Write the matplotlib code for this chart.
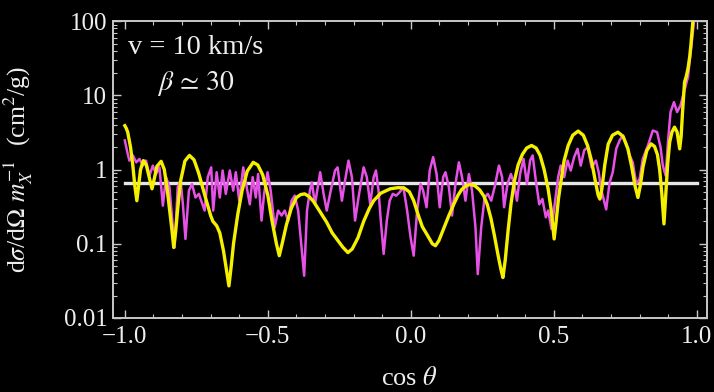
import matplotlib
matplotlib.use("Agg")
import matplotlib.pyplot as plt
from matplotlib.ticker import FixedLocator, LogLocator, NullFormatter, MultipleLocator

# yellow curve (cos theta, cross section)
yellow_x = [-1.0, -0.995, -0.990, -0.980, -0.972, -0.965, -0.958, -0.952, -0.945, -0.935,
            -0.925, -0.915, -0.905, -0.897, -0.888, -0.873, -0.862, -0.852, -0.843, -0.835,
            -0.829, -0.822, -0.815, -0.805, -0.790, -0.774, -0.758, -0.742, -0.720, -0.700,
            -0.692, -0.679, -0.668, -0.655, -0.645, -0.636, -0.628, -0.620, -0.605, -0.590,
            -0.572, -0.551, -0.535, -0.518, -0.500, -0.485, -0.470, -0.460, -0.450, -0.435,
            -0.418, -0.400, -0.385, -0.371, -0.355, -0.340, -0.320, -0.294, -0.275, -0.255,
            -0.238, -0.220, -0.205, -0.185, -0.165, -0.145, -0.130, -0.105, -0.072, -0.045,
            -0.024, -0.005, 0.010, 0.025, 0.040, 0.059, 0.075, 0.086, 0.098, 0.115,
            0.133, 0.150, 0.165, 0.178, 0.195, 0.209, 0.225, 0.241, 0.255, 0.267,
            0.280, 0.292, 0.305, 0.315, 0.322, 0.330, 0.340, 0.350, 0.362, 0.375,
            0.390, 0.405, 0.422, 0.438, 0.452, 0.466, 0.480, 0.490, 0.501, 0.508,
            0.516, 0.525, 0.536, 0.550, 0.566, 0.585, 0.603, 0.618, 0.632, 0.645,
            0.655, 0.661, 0.668, 0.678, 0.690, 0.705, 0.724, 0.742, 0.759, 0.772,
            0.784, 0.794, 0.802, 0.812, 0.825, 0.840, 0.852, 0.862, 0.870, 0.878,
            0.885, 0.891, 0.898, 0.905, 0.913, 0.922, 0.931, 0.940, 0.945, 0.950,
            0.957, 0.963, 0.969, 0.975, 0.979, 0.986, 0.990]
yellow_y = [3.9, 3.6, 3.2, 2.0, 1.13, 0.6, 0.38, 0.6, 1.0, 1.32,
            1.15, 0.8, 0.55, 0.75, 1.1, 1.29, 1.0, 0.55, 0.28, 0.15,
            0.089, 0.15, 0.3, 0.7, 1.3, 1.55, 1.35, 0.9, 0.445, 0.24,
            0.2, 0.175, 0.14, 0.08, 0.045, 0.027, 0.05, 0.1, 0.25, 0.52,
            0.95, 1.25, 1.15, 0.85, 0.45, 0.2, 0.1, 0.069, 0.1, 0.18,
            0.3, 0.42, 0.46, 0.47, 0.43, 0.37, 0.28, 0.194, 0.14, 0.11,
            0.09, 0.076, 0.085, 0.12, 0.2, 0.3, 0.38, 0.48, 0.55, 0.57,
            0.565, 0.5, 0.38, 0.25, 0.17, 0.128, 0.1, 0.094, 0.11, 0.16,
            0.24, 0.34, 0.45, 0.54, 0.61, 0.63, 0.6, 0.53, 0.44, 0.34,
            0.22, 0.13, 0.07, 0.045, 0.035, 0.06, 0.15, 0.34, 0.7, 1.15,
            1.6, 1.95, 2.11, 1.95, 1.55, 1.0, 0.55, 0.3, 0.116, 0.2,
            0.4, 0.7, 1.32, 2.1, 2.9, 3.30, 2.9, 2.1, 1.3, 0.7,
            0.45, 0.40, 0.55, 1.15, 2.2, 2.9, 3.19, 2.8, 1.90, 1.1,
            0.6, 0.42, 0.6, 1.1, 1.8, 2.22, 2.05, 1.6, 1.0, 0.45,
            0.185, 0.45, 1.2, 2.34, 3.2, 3.73, 3.2, 1.90, 2.8, 6.0,
            15.1, 18.0, 23.0, 33.0, 47.0, 98.0, 120.0]

# magenta curve
magenta_x = [-1.0, -0.990, -0.984, -0.972, -0.960, -0.949, -0.937, -0.926, -0.914, -0.902,
             -0.891, -0.879, -0.867, -0.856, -0.844, -0.832, -0.826, -0.815, -0.805, -0.797,
             -0.788, -0.776, -0.765, -0.753, -0.741, -0.733, -0.721, -0.710, -0.698, -0.691,
             -0.679, -0.668, -0.658, -0.647, -0.633, -0.621, -0.612, -0.600, -0.586, -0.574,
             -0.563, -0.553, -0.542, -0.534, -0.522, -0.513, -0.501, -0.490, -0.476, -0.464,
             -0.452, -0.441, -0.429, -0.417, -0.406, -0.394, -0.379, -0.373, -0.363, -0.353,
             -0.346, -0.335, -0.317, -0.305, -0.294, -0.280, -0.265, -0.256, -0.241, -0.230,
             -0.218, -0.206, -0.195, -0.183, -0.165, -0.154, -0.142, -0.130, -0.122, -0.113,
             -0.105, -0.095, -0.084, -0.074, -0.063, -0.051, -0.040, -0.026, -0.013, -0.001,
             0.010, 0.022, 0.034, 0.043, 0.055, 0.066, 0.078, 0.090, 0.101, 0.113,
             0.121, 0.133, 0.144, 0.156, 0.168, 0.179, 0.191, 0.203, 0.214, 0.226,
             0.234, 0.246, 0.258, 0.269, 0.281, 0.293, 0.308, 0.319, 0.326, 0.338,
             0.350, 0.361, 0.371, 0.382, 0.394, 0.406, 0.417, 0.426, 0.437, 0.449,
             0.460, 0.472, 0.480, 0.492, 0.503, 0.515, 0.524, 0.536, 0.548, 0.559,
             0.571, 0.583, 0.594, 0.606, 0.618, 0.632, 0.647, 0.657, 0.665, 0.683,
             0.695, 0.706, 0.718, 0.730, 0.741, 0.753, 0.765, 0.776, 0.788, 0.800,
             0.811, 0.829, 0.846, 0.861, 0.873, 0.881, 0.891, 0.899, 0.908, 0.920,
             0.931, 0.943, 0.955, 0.969, 0.980, 0.990, 0.993]
magenta_y = [2.47, 1.63, 1.32, 1.55, 1.25, 1.39, 1.13, 1.32, 0.83, 1.13,
             0.87, 1.07, 0.326, 0.79, 0.58, 0.166, 0.089, 0.58, 0.71, 0.34,
             0.116, 0.52, 0.64, 0.42, 0.47, 0.38, 0.28, 0.79, 1.07, 0.28,
             0.92, 0.42, 0.97, 0.47, 0.97, 0.52, 0.92, 0.38, 1.07, 0.58,
             0.34, 0.79, 0.42, 0.87, 0.205, 0.47, 0.92, 0.52, 0.166, 0.28,
             0.24, 0.28, 0.205, 0.38, 0.445, 0.28, 0.065, 0.037, 0.28, 0.52,
             0.67, 0.34, 0.92, 0.47, 0.28, 0.52, 0.97, 1.07, 0.38, 0.71,
             1.32, 0.79, 0.205, 0.42, 1.07, 0.79, 0.34, 0.79, 0.97, 0.52,
             0.205, 0.073, 0.205, 0.38, 0.47, 0.445, 0.49, 0.58, 0.28, 0.122,
             0.069, 0.28, 0.64, 0.52, 0.31, 0.97, 1.47, 0.87, 0.31, 0.79,
             0.92, 0.58, 0.24, 0.64, 1.25, 0.79, 0.38, 0.87, 0.52, 0.166,
             0.039, 0.166, 0.42, 0.47, 0.38, 0.58, 1.13, 0.79, 0.31, 0.64,
             0.87, 0.64, 0.38, 0.87, 1.39, 0.64, 1.32, 1.55, 0.71, 0.34,
             0.40, 0.227, 0.28, 0.158, 0.34, 0.79, 1.13, 0.79, 1.32, 0.97,
             1.47, 1.90, 1.13, 1.81, 2.0, 1.07, 1.32, 0.91, 0.55, 0.29,
             0.67, 0.92, 1.90, 2.47, 2.88, 2.22, 1.55, 1.25, 0.64, 0.75,
             1.39, 2.11, 3.36, 3.19, 2.0, 1.13, 0.83, 2.34, 5.95, 8.1,
             5.95, 7.3, 11.1, 17.7, 42.7, 98.0, 130.0]

# flat reference level
flat_x = [-1.0, 1.0]
flat_y = [0.65, 0.65]

x_ticks = [-1.0, -0.5, 0.0, 0.5, 1.0]
x_labels = ["\u22121.0", "\u22120.5", "0.0", "0.5", "1.0"]
y_ticks = [0.01, 0.1, 1, 10, 100]
y_labels = ["0.01", "0.1", "1", "10", "100"]

plt.rcParams.update({
    "font.family": "serif",
    "font.serif": ["Liberation Serif", "DejaVu Serif"],
    "mathtext.fontset": "stix",
    "font.size": 18,
})

text_color = "#eeeeee"
frame_color = "#c8c8c8"

fig = plt.figure(figsize=(7.14, 3.92), dpi=100, facecolor="black")
ax = fig.add_axes([0.158, 0.189, 0.832, 0.757])
ax.set_facecolor("black")

ax.plot(flat_x, flat_y, color="#e6e6e6", lw=2.4, zorder=1)
ax.plot(magenta_x, magenta_y, color="#e652e6", lw=1.8, solid_joinstyle="round", zorder=2)
ax.plot(yellow_x, yellow_y, color="#f5f000", lw=2.4, solid_joinstyle="round", zorder=3)

ax.set_yscale("log")
ax.set_xlim(-1.042, 1.035)
ax.set_ylim(0.01, 100)

ax.xaxis.set_major_locator(FixedLocator(x_ticks))
ax.set_xticklabels(x_labels)
ax.xaxis.set_minor_locator(MultipleLocator(0.1))
ax.yaxis.set_major_locator(FixedLocator(y_ticks))
ax.set_yticklabels(y_labels)
ax.yaxis.set_minor_locator(LogLocator(base=10, subs=range(2, 10)))
ax.yaxis.set_minor_formatter(NullFormatter())

for side in ax.spines.values():
    side.set_color(frame_color)
    side.set_linewidth(1.4)
ax.tick_params(which="both", direction="in", top=True, right=True, colors=frame_color,
               labelcolor=text_color)
ax.tick_params(which="major", length=6, width=1.0)
ax.tick_params(which="minor", length=3, width=0.8)
ax.tick_params(axis="x", pad=6)
ax.tick_params(axis="y", pad=4)

ax.set_xlabel(r"cos $\theta$", color=text_color, fontsize=19)
ax.xaxis.set_label_coords(0.5, -0.165)
ax.set_ylabel(r"d$\sigma$/d$\Omega$ $m_X^{-1}$  (cm$^2$/g)", color=text_color, fontsize=18.5)
ax.yaxis.set_label_coords(-0.131, 0.5)

ax.text(0.14, 0.912, "v = 10 km/s", transform=ax.transAxes, ha="center", va="center",
        color=text_color, fontsize=20.5)
ax.text(0.14, 0.791, r"$\beta\,\simeq\,30$", transform=ax.transAxes, ha="center", va="center",
        color=text_color, fontsize=20)

fig.savefig("out.png", dpi=100, facecolor="black")
